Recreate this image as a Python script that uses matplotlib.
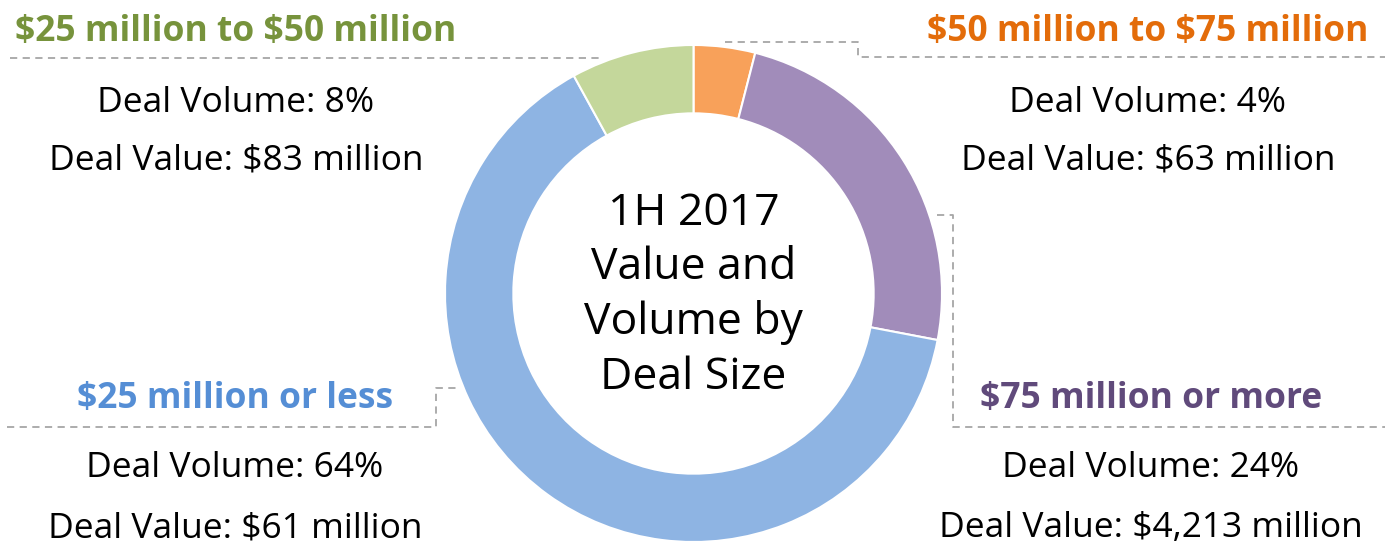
import matplotlib.pyplot as plt

# data
segments = ['$50 million to $75 million', '$75 million or more',
            '$25 million or less', '$25 million to $50 million']
deal_volume = [4, 24, 64, 8]          # percent of deals
deal_value = ['$63 million', '$4,213 million', '$61 million', '$83 million']
center_title = '1H 2017\nValue and\nVolume by\nDeal Size'

wedge_colors = ['#F8A15A', '#A18CBA', '#8EB4E3', '#C4D79B']
title_colors = ['#E36C0A', '#604A7B', '#558ED5', '#77933C']

W, H = 1388, 544
FONT = 'Open Sans'
plt.rcParams['text.parse_math'] = False


def py(y):
    """pixel row (from top) -> data y"""
    return H - y


fig = plt.figure(figsize=(W / 100, H / 100), dpi=100)
ax = fig.add_axes([0, 0, 1, 1])

# donut
cx, cy, r_out = 693.5, 293.5, 248.5
ax.pie(deal_volume, colors=wedge_colors, startangle=90, counterclock=False,
       radius=r_out, center=(cx, py(cy)), frame=True,
       wedgeprops=dict(width=r_out * 0.275, edgecolor='white', linewidth=1.5))
ax.set_xlim(0, W)
ax.set_ylim(0, H)
ax.set_aspect('equal')
ax.axis('off')

ax.text(cx, py(cy + 2), center_title, ha='center', va='center', fontsize=32,
        family=FONT, linespacing=1.3, color='black')

# label blocks: (title x, title y, body x, volume y, value y)
blocks = {
    '$50 million to $75 million': (1148, 32, 1148, 103, 161),
    '$75 million or more': (1151, 399, 1151, 468, 528),
    '$25 million or less': (235, 399, 235, 468, 528),
    '$25 million to $50 million': (236, 32, 236, 103, 161),
}
for seg, vol, val, tcol in zip(segments, deal_volume, deal_value, title_colors):
    tx, ty, bx, vy, ay = blocks[seg]
    ax.text(tx, py(ty), seg, ha='center', va='center', fontsize=25.5,
            fontweight='bold', color=tcol, family=FONT)
    ax.text(bx, py(vy), f'Deal Volume: {vol}%', ha='center', va='center',
            fontsize=25.5, color='black', family=FONT)
    ax.text(bx, py(ay), f'Deal Value: {val}', ha='center', va='center',
            fontsize=25.5, color='black', family=FONT)

# dashed leader lines
leaders = [
    ([10, 603], [58, 58]),
    ([725, 858, 858, 1385], [42, 42, 57, 57]),
    ([937, 953, 953, 1385], [215, 215, 427, 427]),
    ([7, 436, 436, 458], [427, 427, 388, 388]),
]
for xs, ys in leaders:
    ax.plot(xs, [py(v) for v in ys], color='#A6A6A6', linewidth=1.3,
            linestyle=(0, (4, 3)))

fig.savefig('out.png', dpi=100)
